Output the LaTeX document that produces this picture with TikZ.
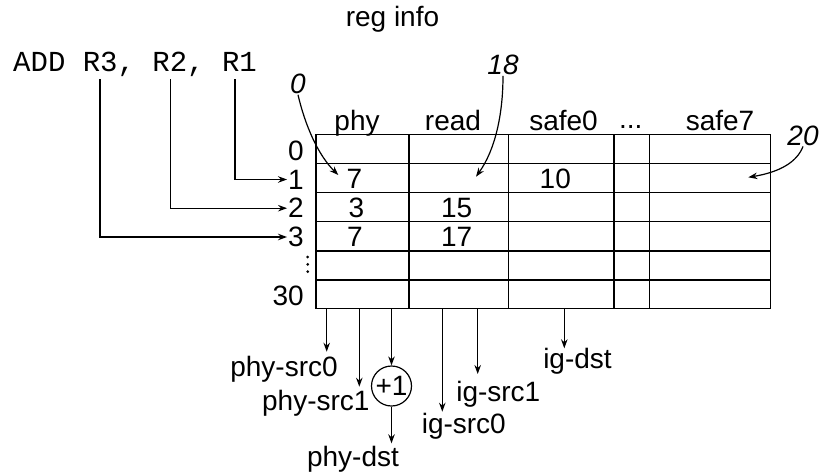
\documentclass[tikz,border=0pt]{standalone}
\usepackage{fontspec}
\setmainfont{Liberation Sans}
\setmonofont{Liberation Mono}
\usetikzlibrary{arrows.meta}

\begin{document}
\begin{tikzpicture}[
  x=1pt, y=-1pt,
  tbl/.style={line width=1.4pt},
  arr/.style={-{Stealth[length=9pt, width=6.5pt]}, line width=1.2pt},
  lbl/.style={font=\fontsize{28}{32}\selectfont, inner sep=1pt},
  num/.style={font=\fontsize{28}{32}\selectfont\itshape, inner sep=1pt},
  code/.style={font=\fontsize{29}{32}\selectfont\ttfamily, inner sep=0pt}
]
  \useasboundingbox (0,0) rectangle (822,475);

  \node[lbl, anchor=base] (title) at (392.5,26.7) {reg info};
  \node[code, anchor=base west] (instr) at (13,71) {ADD R3, R2, R1};
  \coordinate (r3) at (100,79);
  \coordinate (r2) at (170.5,79);
  \coordinate (r1) at (235,79);

  % table
  \draw[tbl] (316,134.5) rectangle (770.7,308.5);
  \draw[tbl] (316,163.5) -- (770.7,163.5);
  \draw[tbl] (316,192.7) -- (770.7,192.7);
  \draw[tbl] (316,221.7) -- (770.7,221.7);
  \draw[tbl] (316,251) -- (770.7,251);
  \draw[tbl] (316,280) -- (770.7,280);
  \draw[tbl] (409,134.5) -- (409,308.5);
  \draw[tbl] (508.3,134.5) -- (508.3,308.5);
  \draw[tbl] (614,134.5) -- (614,308.5);
  \draw[tbl] (649.3,134.5) -- (649.3,308.5);

  \node[lbl, anchor=base] (hphy)   at (357,130)   {phy};
  \node[lbl, anchor=base] (hread)  at (453,130)   {read};
  \node[lbl, anchor=base] (hsafe0) at (563.5,130) {safe0};
  \node[lbl, anchor=base] (hdots)  at (630.7,128) {...};
  \node[lbl, anchor=base] (hsafe7) at (720,130)   {safe7};

  \node[lbl, anchor=east] (row0)  at (305,150.5) {0};
  \node[lbl, anchor=east] (row1)  at (305,179.5) {1};
  \node[lbl, anchor=east] (row2)  at (305,208.2) {2};
  \node[lbl, anchor=east] (row3)  at (305,237)   {3};
  \node[lbl, anchor=east] (row30) at (305,295.5) {30};
  \fill (307.7,257) circle (1.5pt) (307.7,264.3) circle (1.5pt) (307.7,271.6) circle (1.5pt);

  \node[lbl] (c1phy)  at (354.5,179)   {7};
  \node[lbl] (c1safe) at (555.3,179)   {10};
  \node[lbl] (c2phy)  at (356.5,208)   {3};
  \node[lbl] (c2read) at (456.6,208)   {15};
  \node[lbl] (c3phy)  at (355,236.7)   {7};
  \node[lbl] (c3read) at (456.6,236.7) {17};

  \draw[arr] (r1) |- (row1.west);
  \draw[arr] (r2) |- (row2.west);
  \draw[arr] (r3) |- (row3.west);

  % annotations
  \node[num, anchor=base] (n0)  at (298,93.3) {0};
  \node[num, anchor=base] (n18) at (503,74.3) {18};
  \node[num, anchor=base] (n20) at (803,145)  {20};
  \coordinate (t0)  at (338.3,175);
  \coordinate (t18) at (476,176.7);
  \coordinate (t20) at (748.3,177.3);
  \draw[arr] (n0.south) .. controls (305,125) and (318,155) .. (t0);
  \draw[arr] (n18.south) .. controls (503,115) and (495,150) .. (t18);
  \draw[arr] (n20.south) .. controls (797,162) and (780,172) .. (t20);

  % outputs
  \node[lbl, anchor=base] (psrc0) at (284,376.7)   {phy-src0};
  \node[lbl, anchor=base] (psrc1) at (315.8,410)   {phy-src1};
  \node[lbl, anchor=base] (pdst)  at (353,466.7)   {phy-dst};
  \node[lbl, anchor=base] (isrc0) at (463.8,433.3) {ig-src0};
  \node[lbl, anchor=base] (isrc1) at (498.3,401.7) {ig-src1};
  \node[lbl, anchor=base] (idst)  at (577.5,368.3) {ig-dst};
  \node[lbl, draw, circle, line width=1.2pt, minimum size=40pt, inner sep=0pt] (inc) at (391.5,386) {+1};

  \coordinate (o0) at (326.7,308.5);
  \coordinate (o1) at (359.3,308.5);
  \coordinate (o2) at (391.5,308.5);
  \coordinate (o3) at (442.3,308.5);
  \coordinate (o4) at (477.7,308.5);
  \coordinate (o5) at (564.3,308.5);
  \coordinate (e0) at (326.7,351.7);
  \coordinate (e1) at (359.3,386.7);
  \coordinate (e3) at (442.3,411.7);
  \coordinate (e4) at (477.7,374);
  \coordinate (e5) at (564.3,348.3);
  \coordinate (ed) at (391.5,443.3);

  \draw[arr] (o0) -- (e0);
  \draw[arr] (o1) -- (e1);
  \draw[arr] (o2) -- (inc.north);
  \draw[arr] (o3) -- (e3);
  \draw[arr] (o4) -- (e4);
  \draw[arr] (o5) -- (e5);
  \draw[arr] (inc.south) -- (ed);
\end{tikzpicture}
\end{document}
